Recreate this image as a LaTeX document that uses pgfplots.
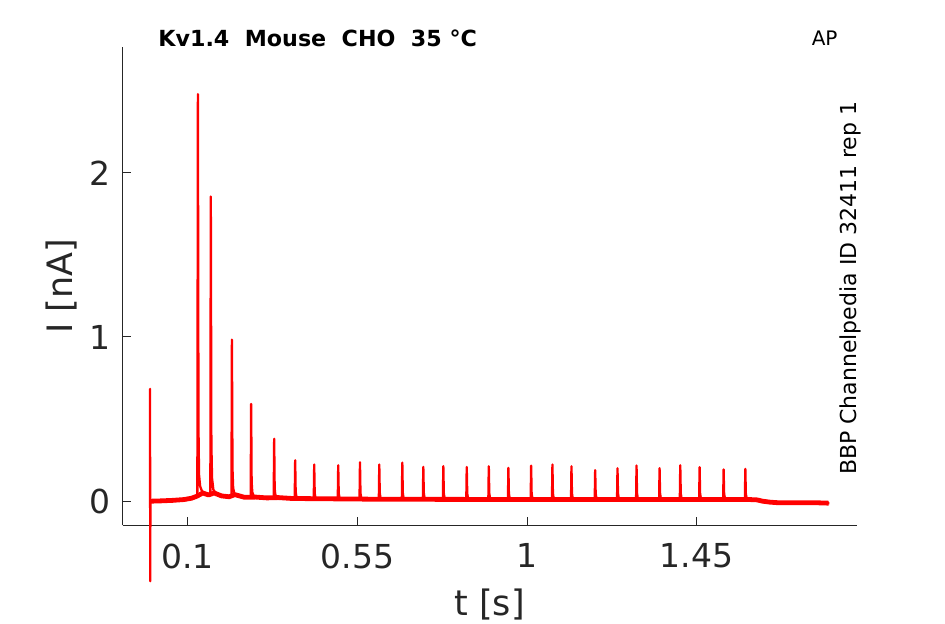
\documentclass[border=0pt]{standalone}
\usepackage{fontspec}
\setmainfont{DejaVu Sans}
\usepackage{pgfplots}
\usepackage{pgfplotstable}
\pgfplotsset{compat=1.18}
\definecolor{axgray}{HTML}{262626}
\pgfplotstableread{
t I
0 0
0 0.684
0.0005 -0.487
0.001 0.0
0.03 0.002
0.06 0.005
0.09 0.01
0.11 0.018
0.122 0.028
0.1255 0.035
0.127 2.479
0.1285 0.45
0.130 0.16
0.133 0.09
0.137 0.065
0.145 0.045
0.155 0.038
0.1600 0.036
0.1612 1.855
0.1627 0.35
0.1645 0.14
0.168 0.07
0.175 0.045
0.19 0.032
0.205 0.028
0.2160 0.027
0.2172 0.984
0.2187 0.2
0.2205 0.08
0.224 0.045
0.232 0.03
0.25 0.024
0.2670 0.022
0.2682 0.592
0.2695 0.12
0.2712 0.055
0.275 0.032
0.29 0.022
0.31 0.02
0.3280 0.019
0.3293 0.380
0.3306 0.08
0.3322 0.04
0.336 0.025
0.35 0.018
0.3838 0.016
0.3850 0.249
0.3863 0.06
0.388 0.03
0.392 0.018
0.4343 0.012
0.4355 0.223
0.4368 0.05
0.4385 0.024
0.4425 0.012
0.4980 0.012
0.4992 0.219
0.5005 0.05
0.5022 0.024
0.5062 0.012
0.5557 0.012
0.5569 0.237
0.5582 0.05
0.5599 0.024
0.5639 0.012
0.6069 0.012
0.6081 0.223
0.6094 0.05
0.6111 0.024
0.6151 0.012
0.6680 0.012
0.6692 0.235
0.6705 0.05
0.6722 0.024
0.6762 0.012
0.7237 0.011
0.7249 0.209
0.7262 0.05
0.7279 0.023
0.7319 0.011
0.7768 0.01
0.7780 0.213
0.7793 0.048
0.7810 0.022
0.7850 0.01
0.8389 0.01
0.8401 0.208
0.8414 0.048
0.8431 0.022
0.8471 0.01
0.8974 0.01
0.8986 0.213
0.8999 0.048
0.9016 0.022
0.9056 0.01
0.9494 0.01
0.9506 0.203
0.9519 0.048
0.9536 0.022
0.9576 0.01
1.0097 0.01
1.0109 0.217
1.0122 0.048
1.0139 0.022
1.0179 0.01
1.0662 0.01
1.0674 0.223
1.0687 0.048
1.0704 0.022
1.0744 0.01
1.1167 0.01
1.1179 0.213
1.1192 0.048
1.1209 0.022
1.1249 0.01
1.1796 0.01
1.1808 0.189
1.1821 0.048
1.1838 0.022
1.1878 0.01
1.2388 0.01
1.2400 0.201
1.2413 0.048
1.2430 0.022
1.2470 0.01
1.2893 0.01
1.2905 0.217
1.2918 0.048
1.2935 0.022
1.2975 0.01
1.3504 0.01
1.3516 0.201
1.3529 0.048
1.3546 0.022
1.3586 0.01
1.4053 0.01
1.4065 0.219
1.4078 0.048
1.4095 0.022
1.4135 0.01
1.4566 0.01
1.4578 0.207
1.4591 0.048
1.4608 0.022
1.4648 0.01
1.5203 0.01
1.5215 0.193
1.5228 0.048
1.5245 0.022
1.5285 0.01
1.5779 0.01
1.5791 0.197
1.5804 0.048
1.5821 0.022
1.5861 0.01
1.61 0.008
1.625 0.0
1.645 -0.006
1.67 -0.01
1.72 -0.01
1.76 -0.009
1.802 -0.012
}\trace
\pgfplotstableread{
t I
0.002 0
0.03 0.002
0.06 0.005
0.09 0.01
0.11 0.018
0.124 0.03
0.14 0.05
0.155 0.038
0.17 0.05
0.19 0.032
0.21 0.027
0.225 0.04
0.25 0.024
0.28 0.025
0.31 0.02
0.34 0.022
0.38 0.016
0.4 0.016
0.6 0.012
0.8 0.011
1.2 0.01
1.59 0.01
1.61 0.008
1.625 0
1.645 -0.006
1.67 -0.01
1.72 -0.01
1.76 -0.009
1.80 -0.012
}\band
\begin{document}
\begin{tikzpicture}
\path[use as bounding box] (-61.35pt,-49.25pt) rectangle (411.15pt,262.75pt);
\begin{axis}[
 at={(0,0)}, anchor=south west, scale only axis,
 width=366.9pt, height=239.25pt,
 xmin=-0.0725, xmax=1.874, ymin=-0.148, ymax=2.766,
 axis x line=bottom, axis y line=left,
 axis line style={-, draw=axgray, line width=0.5pt},
 tick align=inside, major tick length=4pt,
 tick style={draw=axgray, line width=0.5pt},
 xtick={0.1,0.55,1,1.45}, xticklabels={0.1,0.55,1,1.45},
 ytick={0,1,2}, yticklabels={0,1,2},
 scaled ticks=false,
 ticklabel style={font=\fontsize{16.5}{18}\selectfont, text=axgray},
 xticklabel style={yshift=-5.5pt},
 yticklabel style={xshift=-2.6pt},
 clip=false,
 xlabel={t [s]}, ylabel={I [nA]},
 every axis x label/.style={at={(axis description cs:0.5,-0.189)}, anchor=base, font=\fontsize{17.5}{20}\selectfont, text=axgray},
 every axis y label/.style={at={(axis description cs:-0.084,0.5)}, anchor=center, rotate=90, font=\fontsize{17.5}{20}\selectfont, text=axgray},
]
\addplot[red, line width=2.4pt, line join=round] table[x=t,y=I] {\band};
\addplot[red, line width=1.15pt, line join=round] table[x=t,y=I] {\trace};
\node[anchor=base west, inner sep=0pt, font=\bfseries\fontsize{11.1}{12}\selectfont] at (axis description cs:0.0481,1) {Kv1.4\ \ Mouse\ \ CHO\ \ 35 °C};
\node[anchor=base west, inner sep=0pt, font=\fontsize{10}{11}\selectfont] at (axis description cs:0.9385,1.003) {AP};
\node[rotate=90, anchor=base, inner sep=0pt, font=\fontsize{11}{12}\selectfont] at (axis description cs:1,0.496) {BBP Channelpedia ID 32411 rep 1};
\end{axis}
\end{tikzpicture}
\end{document}
